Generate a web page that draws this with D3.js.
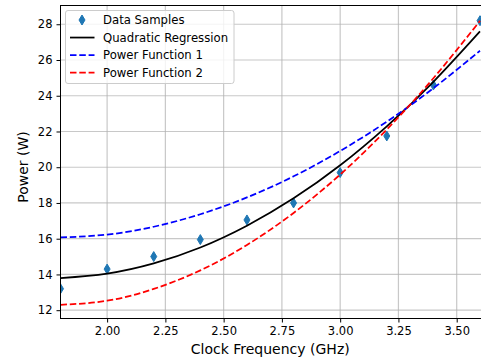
<!DOCTYPE html>
<html>
<head>
<meta charset="utf-8">
<script src="https://cdn.jsdelivr.net/npm/d3@7"></script>
<style>
body { margin: 0; background: #fff; }
svg { display: block; font-family: "DejaVu Sans", sans-serif; }
</style>
</head>
<body>
<svg width="481" height="364"></svg>
<script>
// clock frequency samples (GHz)
var freqs = [1.8, 2.0, 2.2, 2.4, 2.6, 2.8, 3.0, 3.2, 3.4, 3.6];
// measured power (W)
var samples = [13.2, 14.3, 15.0, 15.95, 17.05, 18.0, 19.7, 21.75, 24.6, 28.2];
// fitted curves read at the same frequencies
var quadFit = [13.80, 14.05, 14.62, 15.51, 16.73, 18.26, 20.11, 22.29, 24.78, 27.60];
var power1 = [16.07, 16.23, 16.67, 17.37, 18.31, 19.49, 20.91, 22.55, 24.42, 26.52];
var power2 = [12.30, 12.53, 13.19, 14.23, 15.65, 17.44, 19.59, 22.11, 24.98, 28.19];
var xTicks = [2.0, 2.25, 2.5, 2.75, 3.0, 3.25, 3.5];
var yTicks = [12, 14, 16, 18, 20, 22, 24, 26, 28];

var svg = d3.select("svg"),
	box = {
		left: 60.5,
		right: 480,
		top: 5.5,
		bottom: 318.5
	},
	dash = "6.5,2.8";

var x = d3.scaleLinear()
	.domain([1.8, 3.6])
	.range([box.left, box.right]);

var y = d3.scaleLinear()
	.domain([11.535, 29.05])
	.range([box.bottom, box.top]);

svg.append("defs").append("clipPath")
	.attr("id", "plot")
	.append("rect")
	.attr("x", box.left)
	.attr("y", box.top)
	.attr("width", box.right - box.left + 2)
	.attr("height", box.bottom - box.top);

// grid
var grid = svg.append("g")
	.attr("stroke", "#b0b0b0")
	.attr("stroke-opacity", 0.7)
	.attr("stroke-width", 1.2);

grid.selectAll("line.v")
	.data(xTicks)
	.enter().append("line")
	.attr("class", "v")
	.attr("x1", function (d) { return x(d); })
	.attr("x2", function (d) { return x(d); })
	.attr("y1", box.top)
	.attr("y2", box.bottom);

grid.selectAll("line.h")
	.data(yTicks)
	.enter().append("line")
	.attr("class", "h")
	.attr("x1", box.left)
	.attr("x2", box.right + 2)
	.attr("y1", function (d) { return y(d); })
	.attr("y2", function (d) { return y(d); });

var plot = svg.append("g").attr("clip-path", "url(#plot)");

var diamond = "M0,-5L3,0L0,5L-3,0Z";

plot.selectAll("path.pt")
	.data(freqs)
	.enter().append("path")
	.attr("class", "pt")
	.attr("d", diamond)
	.attr("fill", "#1f77b4")
	.attr("stroke", "#1f77b4")
	.attr("stroke-width", 1)
	.attr("transform", function (d, i) {
		return "translate(" + x(d) + "," + y(samples[i]) + ")";
	});

var line = d3.line()
	.x(function (d) { return x(d[0]); })
	.y(function (d) { return y(d[1]); })
	.curve(d3.curveNatural);

var curves = [
	{ values: quadFit, color: "#000", dash: null },
	{ values: power1, color: "#0000ff", dash: dash },
	{ values: power2, color: "#ff0000", dash: dash }
];

plot.selectAll("path.curve")
	.data(curves)
	.enter().append("path")
	.attr("class", "curve")
	.attr("fill", "none")
	.attr("stroke", function (d) { return d.color; })
	.attr("stroke-width", 1.75)
	.attr("stroke-dasharray", function (d) { return d.dash; })
	.attr("d", function (d) {
		return line(freqs.map(function (f, i) { return [f, d.values[i]]; }));
	});

// frame
svg.append("rect")
	.attr("x", box.left)
	.attr("y", box.top)
	.attr("width", box.right - box.left + 3)
	.attr("height", box.bottom - box.top)
	.attr("fill", "none")
	.attr("stroke", "#000")
	.attr("stroke-width", 1);

// axes
svg.append("g")
	.attr("transform", "translate(0," + box.bottom + ")")
	.call(d3.axisBottom(x).tickValues(xTicks).tickFormat(d3.format(".2f")).tickSize(4).tickPadding(4))
	.call(function (g) { g.select(".domain").remove(); })
	.attr("font-size", 11.5)
	.attr("font-family", "DejaVu Sans");

svg.append("g")
	.attr("transform", "translate(" + box.left + ",0)")
	.call(d3.axisLeft(y).tickValues(yTicks).tickFormat(d3.format("d")).tickSize(4).tickPadding(4))
	.call(function (g) { g.select(".domain").remove(); })
	.attr("font-size", 11.5)
	.attr("font-family", "DejaVu Sans");

svg.append("text")
	.attr("x", (box.left + box.right) / 2)
	.attr("y", 353.5)
	.attr("text-anchor", "middle")
	.attr("font-size", 14)
	.text("Clock Frequency (GHz)");

svg.append("text")
	.attr("transform", "translate(27.5,167) rotate(-90)")
	.attr("text-anchor", "middle")
	.attr("font-size", 14)
	.text("Power (W)");

// legend
var legendItems = [
	{ label: "Data Samples", type: "marker", color: "#1f77b4" },
	{ label: "Quadratic Regression", type: "line", color: "#000", dash: null },
	{ label: "Power Function 1", type: "line", color: "#0000ff", dash: dash },
	{ label: "Power Function 2", type: "line", color: "#ff0000", dash: dash }
];

var legend = svg.append("g")
	.attr("font-size", 11.7);

legend.append("rect")
	.attr("x", 65.5)
	.attr("y", 10.5)
	.attr("width", 168.5)
	.attr("height", 73)
	.attr("rx", 2.5)
	.attr("fill", "#fff")
	.attr("fill-opacity", 0.8)
	.attr("stroke", "#cccccc")
	.attr("stroke-width", 1);

var row = legend.selectAll("g.row")
	.data(legendItems)
	.enter().append("g")
	.attr("class", "row")
	.attr("transform", function (d, i) {
		return "translate(0," + (20 + i * 17.55) + ")";
	});

row.filter(function (d) { return d.type === "line"; })
	.append("line")
	.attr("x1", 70)
	.attr("x2", 94.5)
	.attr("stroke", function (d) { return d.color; })
	.attr("stroke-width", 1.75)
	.attr("stroke-dasharray", function (d) { return d.dash; });

row.filter(function (d) { return d.type === "marker"; })
	.append("path")
	.attr("d", diamond)
	.attr("transform", "translate(82,0)")
	.attr("fill", function (d) { return d.color; })
	.attr("stroke", function (d) { return d.color; })
	.attr("stroke-width", 1);

row.append("text")
	.attr("x", 103)
	.attr("dy", "0.35em")
	.text(function (d) { return d.label; });
</script>
</body>
</html>
